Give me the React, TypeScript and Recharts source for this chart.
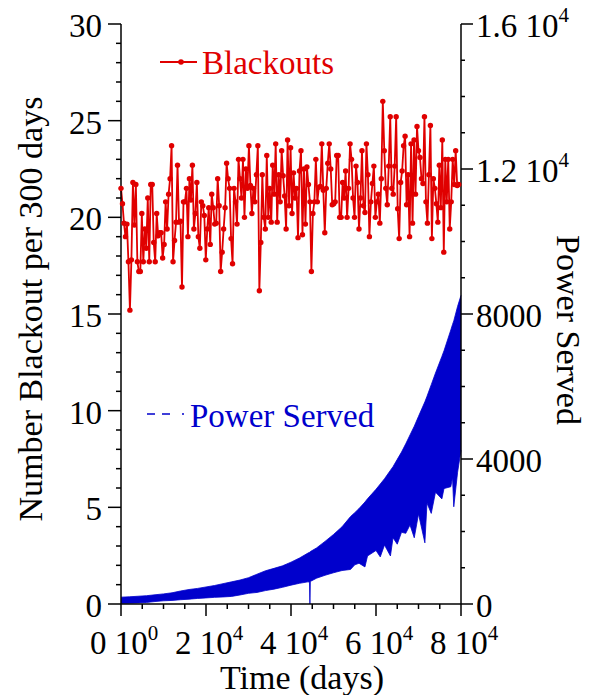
import React from 'react';
import { ComposedChart, Line, Area, XAxis, YAxis } from 'recharts';

const FONT = "'Liberation Serif', 'Times New Roman', serif";
const RED = '#e00000';
const BLUE = '#0000cc';

// blackouts per 300-day window, read left to right off the plot
const blackouts = [
  21.5, 20.7, 19.7, 19.0, 19.65, 17.7, 15.2, 17.8, 21.8, 19.6, 21.7, 17.7, 17.2, 17.2, 20.2, 17.7, 19.4, 18.4,
  21.0, 17.7, 21.7, 21.7, 18.7, 17.7, 20.2, 19.05, 19.2, 19.2, 17.9, 18.6, 20.8, 19.4, 21.2, 22.0, 23.7, 17.7,
  18.8, 19.75, 22.7, 19.75, 19.8, 16.4, 20.8, 20.8, 21.5, 19.0, 22.0, 20.9, 22.7, 19.4, 20.2, 21.8, 19.0, 18.4,
  20.8, 20.6, 20.1, 17.8, 19.4, 20.5, 18.6, 21.2, 20.5, 19.65, 19.7, 22.0, 20.6, 17.2, 18.2, 19.4, 20.5, 22.8,
  22.0, 21.5, 18.9, 17.6, 21.5, 20.8, 19.65, 23.0, 22.0, 21.0, 23.0, 20.0, 22.5, 21.5, 23.7, 21.65, 20.2, 21.5,
  20.8, 22.2, 23.7, 16.2, 18.7, 22.2, 20.0, 19.4, 23.2, 20.0, 21.5, 19.75, 22.7, 21.2, 23.8, 19.75, 22.2, 20.8,
  23.45, 22.15, 21.1, 19.4, 24.0, 20.6, 23.6, 20.2, 22.3, 21.0, 21.5, 18.95, 22.4, 23.45, 19.1, 22.5, 19.65, 22.6,
  21.7, 20.8, 17.2, 20.2, 20.8, 23.0, 20.8, 21.55, 21.6, 23.8, 21.4, 19.2, 21.5, 22.8, 23.8, 22.5, 20.65, 20.7,
  20.8, 23.2, 23.2, 20.0,
  20.0, 21.8, 21.0, 22.4, 20.0, 21.5, 23.8, 23.0, 21.0, 20.0, 22.65, 21.8, 19.4, 21.0, 23.45, 20.6, 20.25, 23.8,
  22.2, 19.0, 20.8, 21.75, 22.65, 20.0, 20.8, 21.2, 19.7, 22.0, 26.0, 23.45, 21.5, 20.65, 22.65, 25.2, 21.5, 21.2,
  22.65, 25.2, 20.45, 18.9, 21.8, 22.4, 23.7, 24.2, 20.65, 22.2, 19.0, 23.8, 19.7, 24.0, 21.2, 24.7, 23.45, 23.1,
  22.0, 21.75, 25.2, 20.8, 19.7, 22.2, 24.75, 18.9, 22.0, 21.5, 20.7, 19.75, 22.7, 20.5, 24.0, 18.2, 23.0, 20.8,
  23.0, 19.4, 20.8, 23.0, 21.7, 23.45, 21.65, 21.7,
];
const blackoutStep = 350; // days between plotted points

// power served: the dense oscillation drawn as a band between its low and high envelopes
const powerDays = [
  0, 2000, 4000, 6000, 8000, 10000, 12000, 14000, 16000, 18000, 20000, 22000, 24000, 26000, 28000, 30000,
  32000, 34000, 36000, 38000, 40000, 42000, 44000, 44350, 44450, 44550, 46000, 48000, 50000, 52000, 54000,
  55000, 56000, 57400, 58000, 60000, 61000, 62000, 63400, 64000, 65000, 66000, 67000, 68000, 69000, 70000,
  71500, 72000, 73000, 74000, 75500, 76000, 77600, 78000, 78300, 79200, 80000,
];
const powerHigh = [
  189, 199, 214, 229, 254, 279, 309, 359, 400, 430, 470, 510, 561, 611, 661, 726,
  822, 917, 983, 1053, 1154, 1269, 1405, 1425, 1435, 1445, 1546, 1727, 1918, 2129, 2411,
  2520, 2632, 2813, 2903, 3165, 3310, 3456, 3688, 3788, 3990, 4190, 4420, 4663, 4904, 5176,
  5578, 5729, 6050, 6372, 6830, 6986, 7559, 7710, 7810, 8212, 8514,
];
const powerLow = [
  18, 23, 30, 43, 68, 88, 98, 118, 133, 153, 168, 183, 194, 209, 249, 294,
  319, 370, 410, 460, 520, 571, 611, 601, 0, 621, 711, 792, 862, 923, 953,
  1080, 1124, 1023, 1325, 1476, 1300, 1626, 1325, 1827, 1650, 1978, 1950, 2179, 1827, 2481,
  1687, 2783, 2500, 3084, 2900, 3185, 3235, 3487, 2682, 3637, 4241,
];

const xTicks = Array.from({ length: 17 }, (_, i) => i * 5000);
const leftTicks = Array.from({ length: 31 }, (_, i) => i);
const rightTicks = Array.from({ length: 17 }, (_, i) => i * 1000);

const xLabels: Record<number, [string, string]> = {
  0: ['0 10', '0'],
  20000: ['2 10', '4'],
  40000: ['4 10', '4'],
  60000: ['6 10', '4'],
  80000: ['8 10', '4'],
};
const rightLabels: Record<number, [string, string]> = {
  0: ['0', ''],
  4000: ['4000', ''],
  8000: ['8000', ''],
  12000: ['1.2 10', '4'],
  16000: ['1.6 10', '4'],
};

const blackoutData = blackouts.map((v, i) => ({ day: i * blackoutStep, v }));
const powerData = powerDays.map((d, i) => ({ day: d, range: [powerLow[i], powerHigh[i]] }));

const txt = { fontFamily: FONT, fontSize: 33, fill: '#000' };

const BottomTick = ({ x, y, payload }: any) => {
  const major = payload.value % 20000 === 0;
  const lab = xLabels[payload.value];
  return (
    <g>
      <line x1={x} x2={x} y1={y} y2={y + (major ? 12 : 5)} stroke="#000" strokeWidth={1.5} />
      {major && lab && (
        <text x={x + 3} y={y + 50} textAnchor="middle" {...txt}>
          <tspan>{lab[0]}</tspan>
          <tspan dy={-14} fontSize={21}>{lab[1]}</tspan>
        </text>
      )}
    </g>
  );
};

const TopTick = ({ x, y, payload }: any) => {
  const major = payload.value % 20000 === 0;
  return <line x1={x} x2={x} y1={y} y2={y - (major ? 12 : 5)} stroke="#000" strokeWidth={1.5} />;
};

const LeftTick = ({ x, y, payload }: any) => {
  const major = payload.value % 5 === 0;
  return (
    <g>
      <line x1={x} x2={x - (major ? 13 : 5)} y1={y} y2={y} stroke="#000" strokeWidth={1.5} />
      {major && (
        <text x={x - 19} y={y + 13} textAnchor="end" {...txt}>
          {payload.value}
        </text>
      )}
    </g>
  );
};

const RightTick = ({ x, y, payload }: any) => {
  const major = payload.value % 4000 === 0;
  const lab = rightLabels[payload.value];
  return (
    <g>
      <line x1={x} x2={x + (major ? 12 : 4)} y1={y} y2={y} stroke="#000" strokeWidth={1.5} />
      {major && lab && (
        <text x={x + 15} y={y + 13} textAnchor="start" {...txt}>
          <tspan>{lab[0]}</tspan>
          {lab[1] && <tspan dy={-15} fontSize={21}>{lab[1]}</tspan>}
        </text>
      )}
    </g>
  );
};

const axisLine = { stroke: '#000', strokeWidth: 1.5 };

export default function App() {
  return (
    <div style={{ position: 'absolute', left: 0, top: 0, width: 595, height: 695, background: '#fff' }}>
      <ComposedChart width={595} height={695} margin={{ top: 24, right: 0, bottom: 0, left: 0 }}>
        <XAxis
          dataKey="day"
          type="number"
          domain={[0, 80000]}
          ticks={xTicks}
          interval={0}
          height={91}
          tickSize={0}
          tickMargin={0}
          tickLine={false}
          axisLine={axisLine}
          tick={<BottomTick />}
        />
        <XAxis
          xAxisId="top"
          orientation="top"
          type="number"
          domain={[0, 80000]}
          ticks={xTicks}
          interval={0}
          height={0}
          tickSize={0}
          tickMargin={0}
          tickLine={false}
          axisLine={axisLine}
          tick={<TopTick />}
        />
        <YAxis
          yAxisId="left"
          type="number"
          domain={[0, 30]}
          ticks={leftTicks}
          interval={0}
          width={121}
          tickSize={0}
          tickMargin={0}
          tickLine={false}
          axisLine={axisLine}
          tick={<LeftTick />}
        />
        <YAxis
          yAxisId="right"
          orientation="right"
          type="number"
          domain={[0, 16000]}
          ticks={rightTicks}
          interval={0}
          width={134}
          tickSize={0}
          tickMargin={0}
          tickLine={false}
          axisLine={axisLine}
          tick={<RightTick />}
        />
        <Area
          yAxisId="right"
          data={powerData}
          dataKey="range"
          type="linear"
          stroke={BLUE}
          strokeWidth={0.8}
          fill={BLUE}
          fillOpacity={1}
          isAnimationActive={false}
        />
        <Line
          yAxisId="left"
          data={blackoutData}
          dataKey="v"
          type="linear"
          stroke={RED}
          strokeWidth={1.8}
          dot={{ r: 2.7, fill: RED, stroke: 'none' }}
          isAnimationActive={false}
        />
      </ComposedChart>
      <svg width={595} height={695} style={{ position: 'absolute', left: 0, top: 0, pointerEvents: 'none' }}>
        <text x={42} y={309} textAnchor="middle" transform="rotate(-90 42 309)" fontFamily={FONT} fontSize={34} fill="#000">
          Number Blackout per 300 days
        </text>
        <text x={557} y={330} textAnchor="middle" transform="rotate(90 557 330)" fontFamily={FONT} fontSize={34} fill="#000">
          Power Served
        </text>
        <text x={302} y={689} textAnchor="middle" fontFamily={FONT} fontSize={34} fill="#000">
          Time (days)
        </text>
        <line x1={160} x2={197} y1={62} y2={62} stroke={RED} strokeWidth={1.8} />
        <circle cx={181} cy={62} r={2.8} fill={RED} />
        <text x={202} y={74} fontFamily={FONT} fontSize={33} fill={RED}>
          Blackouts
        </text>
        <line x1={147} x2={184} y1={414} y2={414} stroke={BLUE} strokeWidth={1.5} strokeDasharray="8 7 8 12 2" />
        <text x={190} y={427} fontFamily={FONT} fontSize={33} fill={BLUE}>
          Power Served
        </text>
      </svg>
    </div>
  );
}
